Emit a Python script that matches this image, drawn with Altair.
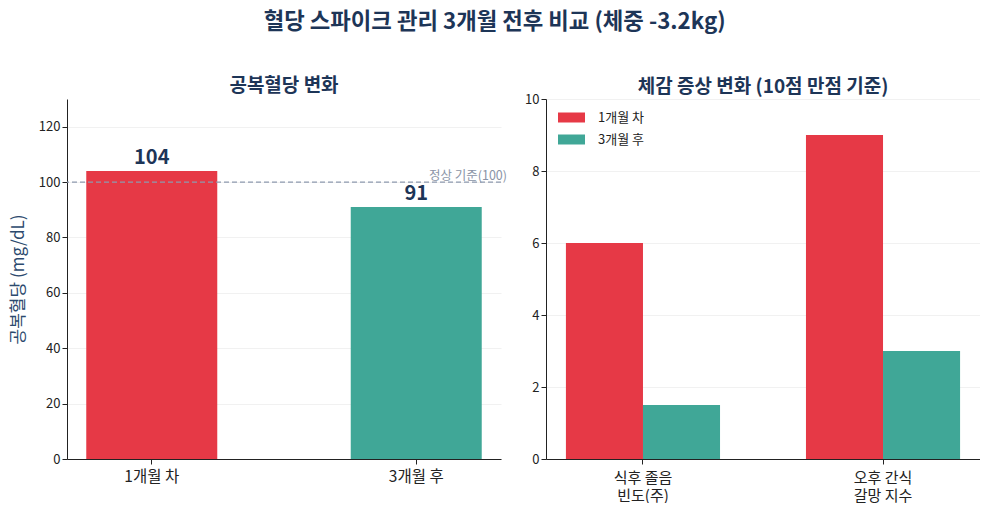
import altair as alt
import pandas as pd

FONT = "Noto Sans CJK KR"
NAVY = "#1D3557"
RED = "#E63946"
TEAL = "#40A797"

main_title = "혈당 스파이크 관리 3개월 전후 비교 (체중 -3.2kg)"

# Left panel
periods = ["1개월 차", "3개월 후"]
fasting_glucose = [104, 91]
normal_ref = 100

# Right panel
symptoms = ["식후 졸음\n빈도(주)", "오후 간식\n갈망 지수"]
before_scores = [6, 9]
after_scores = [1.5, 3]

left_df = pd.DataFrame({"period": periods, "value": fasting_glucose,
                        "label": [str(v) for v in fasting_glucose]})

rows = []
for s, b, a in zip(symptoms, before_scores, after_scores):
    rows.append({"symptom": s, "period": periods[0], "value": b})
    rows.append({"symptom": s, "period": periods[1], "value": a})
right_df = pd.DataFrame(rows)

W, H = 434, 360

xl = alt.X("period:N", sort=periods, title=None,
           scale=alt.Scale(paddingInner=0.503, paddingOuter=0.072),
           axis=alt.Axis(labelAngle=0, labelFontSize=15.5, labelColor="#222",
                         domainColor="#222", tickColor="#222", labelPadding=5))
yl = alt.Y("value:Q", title="공복혈당 (mg/dL)",
           scale=alt.Scale(domain=[0, 130], nice=False),
           axis=alt.Axis(values=[0, 20, 40, 60, 80, 100, 120], titleColor="#2C4A6E",
                         titleFontSize=17, titleFontWeight="normal", titlePadding=11,
                         labelFontSize=13, labelColor="#222", domainColor="#222",
                         tickColor="#222", grid=True, gridColor="#EEEEEE", gridOpacity=0.8))

bars_l = alt.Chart(left_df).mark_bar(size=131).encode(
    x=xl, y=yl,
    color=alt.Color("period:N", scale=alt.Scale(domain=periods, range=[RED, TEAL]), legend=None),
)
labels_l = alt.Chart(left_df).mark_text(dy=-13, fontSize=20, fontWeight="bold", color=NAVY, font=FONT).encode(
    x=alt.X("period:N", sort=periods), y="value:Q", text="label:N")
rule_l = alt.Chart(pd.DataFrame({"v": [normal_ref]})).mark_rule(
    color="#8D99AE", strokeDash=[5, 3], strokeWidth=1.2).encode(y="v:Q")
rule_txt = alt.Chart(pd.DataFrame({"v": [normal_ref], "t": ["정상 기준(100)"]})).mark_text(
    align="right", baseline="bottom", dy=1, fontSize=12.5, color="#8A94A6", font=FONT).encode(
    x=alt.value(W + 6), y="v:Q", text="t:N")

left = alt.layer(bars_l, rule_l, labels_l, rule_txt).properties(
    width=W, height=H,
    title=alt.TitleParams("공복혈당 변화", fontSize=19, fontWeight="bold", color=NAVY, offset=3))

xr = alt.X("symptom:N", sort=symptoms, title=None,
           scale=alt.Scale(paddingInner=0.358, paddingOuter=0.083),
           axis=alt.Axis(labelAngle=0, labelFontSize=15, labelColor="#222", domainColor="#222",
                         tickColor="#222", labelExpr="split(datum.label, '\\n')",
                         labelLineHeight=18, labelPadding=6))
yr = alt.Y("value:Q", title=None, scale=alt.Scale(domain=[0, 10], nice=False),
           axis=alt.Axis(values=[0, 2, 4, 6, 8, 10], labelFontSize=13, labelColor="#222",
                         domainColor="#222", tickColor="#222", grid=True,
                         gridColor="#EEEEEE", gridOpacity=0.8))

right = alt.Chart(right_df).mark_bar().encode(
    x=xr, y=yr,
    xOffset=alt.XOffset("period:N", sort=periods),
    color=alt.Color("period:N", sort=periods,
                    scale=alt.Scale(domain=periods, range=[RED, TEAL]),
                    legend=alt.Legend(title=None, orient="none", legendX=19, legendY=12,
                                      symbolType="M-2.7,-1L2.7,-1L2.7,1L-2.7,1Z",
                                      symbolSize=100, symbolStrokeWidth=0, symbolOpacity=1,
                                      labelFontSize=13, labelColor="#222", rowPadding=8,
                                      labelOffset=20)),
).properties(
    width=W, height=H,
    title=alt.TitleParams("체감 증상 변화 (10점 만점 기준)", fontSize=19, fontWeight="bold",
                          color=NAVY, offset=-4))

chart = alt.hconcat(left, right, spacing=17).resolve_scale(color="independent").resolve_legend(
    color="independent").properties(
    title=alt.TitleParams(main_title, fontSize=22.3, fontWeight="bold", color=NAVY,
                          anchor="middle", offset=44),
    padding={"left": 1, "top": 2, "right": 0, "bottom": 0},
).configure(font=FONT).configure_view(stroke=None).configure_axisX(grid=False)

chart.save("out.html", embed_options={"renderer": "svg", "actions": False})
